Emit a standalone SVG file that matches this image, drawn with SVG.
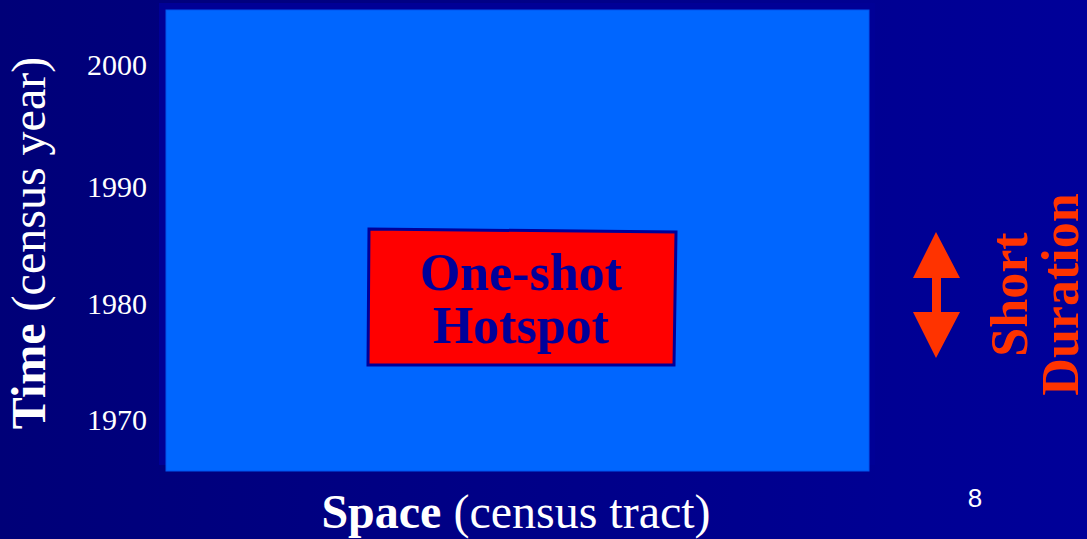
<svg xmlns="http://www.w3.org/2000/svg" width="1087" height="539" viewBox="0 0 1087 539">
<defs>
<linearGradient id="bg" x1="0" y1="0" x2="1" y2="0">
<stop offset="0" stop-color="#000078"/>
<stop offset="0.5" stop-color="#000088"/>
<stop offset="1" stop-color="#000099"/>
</linearGradient>
<style>
.serif{font-family:"Liberation Serif","Times New Roman",serif}
.year{font-size:30px;fill:#ffffff;text-anchor:end}
.axis{font-size:48px;fill:#ffffff}
.hot{font-size:52px;font-weight:bold;fill:#000099;text-anchor:middle}
.dur{font-size:52px;font-weight:bold;fill:#ff3300;text-anchor:middle}
</style>
</defs>
<rect x="0" y="0" width="1087" height="539" fill="url(#bg)"/>
<g id="plot">
<rect x="159" y="3" width="716" height="462" fill="#000096"/>
<rect x="166" y="10" width="703" height="461" fill="#0066ff" stroke="#0055ee" stroke-width="1"/>
</g>
<g id="yaxis" class="serif">
<text class="year" x="147" y="75">2000</text>
<text class="year" x="147" y="197">1990</text>
<text class="year" x="147" y="314">1980</text>
<text class="year" x="147" y="430">1970</text>
<text class="axis" transform="translate(45,243) rotate(-90)" text-anchor="middle" font-size="50"><tspan font-weight="bold">Time</tspan> (census year)</text>
</g>
<g id="xaxis" class="serif">
<text class="axis" x="516" y="528" text-anchor="middle"><tspan font-weight="bold">Space</tspan> (census tract)</text>
</g>
<g id="hotspot">
<polygon points="369,229 676,232 674,365 368,365" fill="#ff0000" stroke="#000099" stroke-width="3"/>
<text class="serif hot" x="521" y="290">One-shot</text>
<text class="serif hot" x="521" y="343">Hotspot</text>
</g>
<g id="connectors">
<polygon points="936,232 960,278 941,278 941,312 960,312 936,358 913,312 932,312 932,278 913,278" fill="#ff3300"/>
</g>
<g id="duration" class="serif">
<text class="dur" transform="translate(1027,294.5) rotate(-90)">Short</text>
<text class="dur" transform="translate(1078,294.5) rotate(-90)">Duration</text>
</g>
<text x="975" y="507" font-family="Liberation Sans, Arial, sans-serif" font-size="26" fill="#ffffff" text-anchor="middle">8</text>
</svg>
